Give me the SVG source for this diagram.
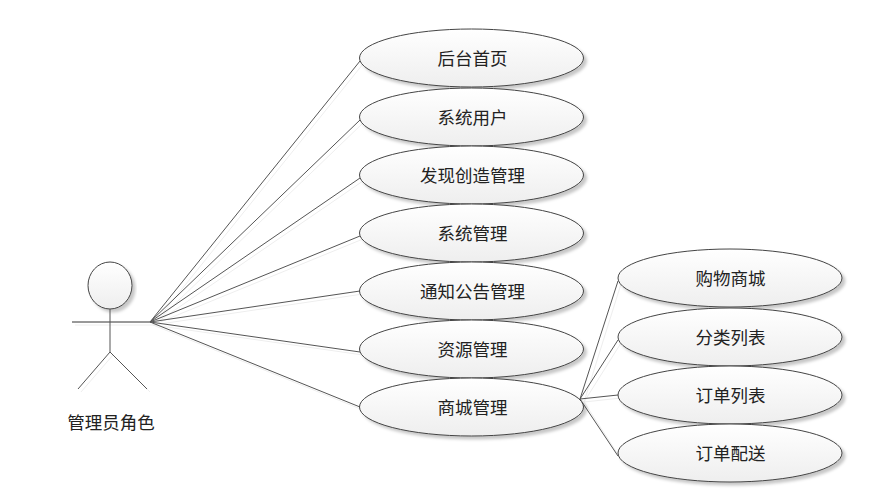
<svg xmlns="http://www.w3.org/2000/svg" width="882" height="501" viewBox="0 0 882 501">
<style>
.u{fill:url(#g);stroke:#444;stroke-width:1;filter:url(#s)}
.t{font-family:"Noto Sans CJK SC","Noto Sans",sans-serif;font-size:17.5px;fill:#222;text-anchor:middle}
.c{stroke:#555;stroke-width:1;fill:none}
.sh{stroke:#eee;stroke-width:1;fill:none}
</style>
<defs>
<linearGradient id="g" x1="0" y1="0" x2="0" y2="1"><stop offset="0" stop-color="#fff"/><stop offset="1" stop-color="#eee"/></linearGradient>
<filter id="s" x="-10%" y="-20%" width="120%" height="145%"><feDropShadow dx="3" dy="3" stdDeviation="1.500" flood-color="#000" flood-opacity="0.22"/></filter>
</defs>
<rect width="882" height="501" fill="#fff"/>
<g id="connectors">
<path class="sh" d="M153 325L363 64M153 325L363 123M153 325L363 181M153 325L363 239M153 325L363 294M153 325L363 355M153 325L363 410M584 402L621 284M584 402L621 343M584 402L621 398M584 402L621 459"/>
<path class="c" d="M150 322L360 61M150 322L360 120M150 322L360 178M150 322L360 236M150 322L360 291M150 322L360 352M150 322L360 407M580 399L618 281M580 399L618 340M580 399L618 395M580 399L618 456"/>
</g>
<g id="actor">
<ellipse class="u" cx="110" cy="285.500" rx="22" ry="23.500"/>
<path d="M75 325L153 325M113 355L81 392M113 355L150 392" stroke="#eee" fill="none"/>
<path d="M72 322L150 322" stroke="#333" fill="none"/>
<path d="M110 309V352M110 352L78 389M110 352L147 389" class="c"/>
<text class="t" x="111" y="429">管理员角色</text>
</g>
<g id="n1"><ellipse class="u" cx="471.500" cy="58" rx="112" ry="29"/><text class="t" x="472.500" y="65">后台首页</text></g>
<g id="n2"><ellipse class="u" cx="471.500" cy="117" rx="112" ry="29"/><text class="t" x="472.500" y="124">系统用户</text></g>
<g id="n3"><ellipse class="u" cx="471.500" cy="175" rx="112" ry="29"/><text class="t" x="472.500" y="182">发现创造管理</text></g>
<g id="n4"><ellipse class="u" cx="471.500" cy="233" rx="112" ry="29"/><text class="t" x="472.500" y="240">系统管理</text></g>
<g id="n5"><ellipse class="u" cx="471.500" cy="291" rx="112" ry="29"/><text class="t" x="472.500" y="298">通知公告管理</text></g>
<g id="n6"><ellipse class="u" cx="471.500" cy="349" rx="112" ry="29"/><text class="t" x="472.500" y="356">资源管理</text></g>
<g id="n7"><ellipse class="u" cx="471.500" cy="407" rx="112" ry="29"/><text class="t" x="472.500" y="414">商城管理</text></g>
<g id="n8"><ellipse class="u" cx="730" cy="278" rx="112" ry="29"/><text class="t" x="730.500" y="285">购物商城</text></g>
<g id="n9"><ellipse class="u" cx="730" cy="337" rx="112" ry="29"/><text class="t" x="730.500" y="344">分类列表</text></g>
<g id="n10"><ellipse class="u" cx="730" cy="395" rx="112" ry="29"/><text class="t" x="730.500" y="402">订单列表</text></g>
<g id="n11"><ellipse class="u" cx="730" cy="453" rx="112" ry="29"/><text class="t" x="730.500" y="460">订单配送</text></g>
</svg>
